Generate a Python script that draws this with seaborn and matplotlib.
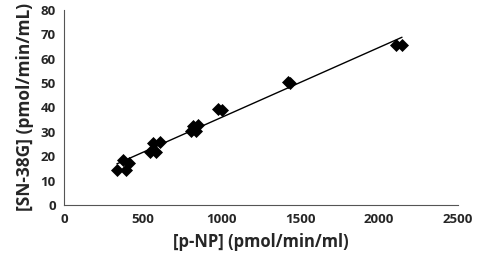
import pandas as pd
import matplotlib
matplotlib.use('Agg')
import matplotlib.pyplot as plt
import seaborn as sns

# values
pnp = [335, 375, 395, 410, 545, 565, 585, 610, 805, 820, 835, 850, 975, 1000, 1420, 1435, 2110, 2145]
sn38g = [14.5, 18.5, 14.5, 17.0, 21.5, 25.5, 21.5, 26.0, 30.5, 32.5, 30.5, 32.8, 39.5, 39.0, 50.5, 50.0, 65.5, 65.5]

xticks = [0, 500, 1000, 1500, 2000, 2500]
yticks = [0, 10, 20, 30, 40, 50, 60, 70, 80]

sns.set_style('white')
plt.rcParams['font.family'] = ['Open Sans', 'DejaVu Sans']
plt.rcParams['font.weight'] = 'bold'

table = pd.DataFrame({'pnp': pnp, 'sn38g': sn38g})

fig = plt.figure(figsize=(4.78, 2.62), dpi=100)
ax = fig.add_axes([0.134, 0.218, 0.824, 0.744])

sns.regplot(data=table, x='pnp', y='sn38g', ci=None, ax=ax,
            marker='D', color='black',
            scatter_kws={'s': 44, 'linewidths': 0, 'alpha': 1},
            line_kws={'color': 'black', 'linewidth': 1.0})

ax.set_xlim(0, 2500)
ax.set_ylim(0, 80)
ax.set_xticks(xticks)
ax.set_yticks(yticks)
ax.tick_params(direction='in', length=4, width=0.8, color='#555555',
               labelsize=9.5, pad=6)
for lab in ax.get_xticklabels() + ax.get_yticklabels():
    lab.set_fontweight('bold')

sns.despine(ax=ax)
for s in ['left', 'bottom']:
    ax.spines[s].set_color('#555555')
    ax.spines[s].set_linewidth(0.8)

ax.set_xlabel('[p-NP] (pmol/min/ml)', fontsize=12, fontweight='bold', labelpad=5)
ax.set_ylabel('[SN-38G] (pmol/min/mL)', fontsize=12.5, fontweight='bold', labelpad=5)

fig.savefig('out.png', dpi=100)
